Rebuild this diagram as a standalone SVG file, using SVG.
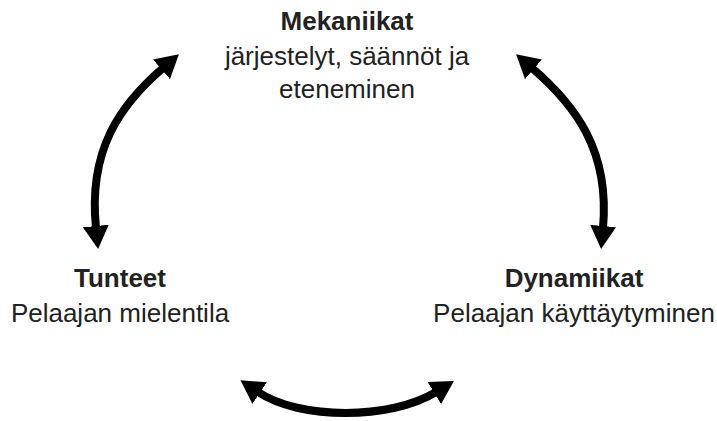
<svg xmlns="http://www.w3.org/2000/svg" width="717" height="421" viewBox="0 0 717 421">
  <defs>
    <marker id="head" viewBox="0 0 23 26" refX="2" refY="13" markerWidth="23" markerHeight="26" markerUnits="userSpaceOnUse" orient="auto-start-reverse">
      <path d="M0,0 L23,13 L0,26 z" fill="#000"/>
    </marker>
    <style>
      text { font-family: "Liberation Sans", Arial, sans-serif; font-size: 26px; fill: #222; text-anchor: middle; }
      .title { font-weight: bold; }
      .link { fill: none; stroke: #000; stroke-width: 8; marker-start: url(#head); marker-end: url(#head); }
    </style>
  </defs>
  <rect width="717" height="421" fill="#fff"/>

  <g id="connectors">
    <path class="link" d="M163,68 C120,105 88,150 96,228"/>
    <path class="link" d="M532,68 C575,105 610,150 603,228"/>
    <path class="link" d="M258,392 C300,420 390,420 436,392"/>
  </g>

  <g id="mekaniikat">
    <text class="title" x="347" y="30">Mekaniikat</text>
    <text x="347" y="65">järjestelyt, säännöt ja</text>
    <text x="347" y="98">eteneminen</text>
  </g>

  <g id="tunteet">
    <text class="title" x="120" y="287">Tunteet</text>
    <text x="120" y="322">Pelaajan mielentila</text>
  </g>

  <g id="dynamiikat">
    <text class="title" x="574" y="287">Dynamiikat</text>
    <text x="574" y="322">Pelaajan käyttäytyminen</text>
  </g>
</svg>
